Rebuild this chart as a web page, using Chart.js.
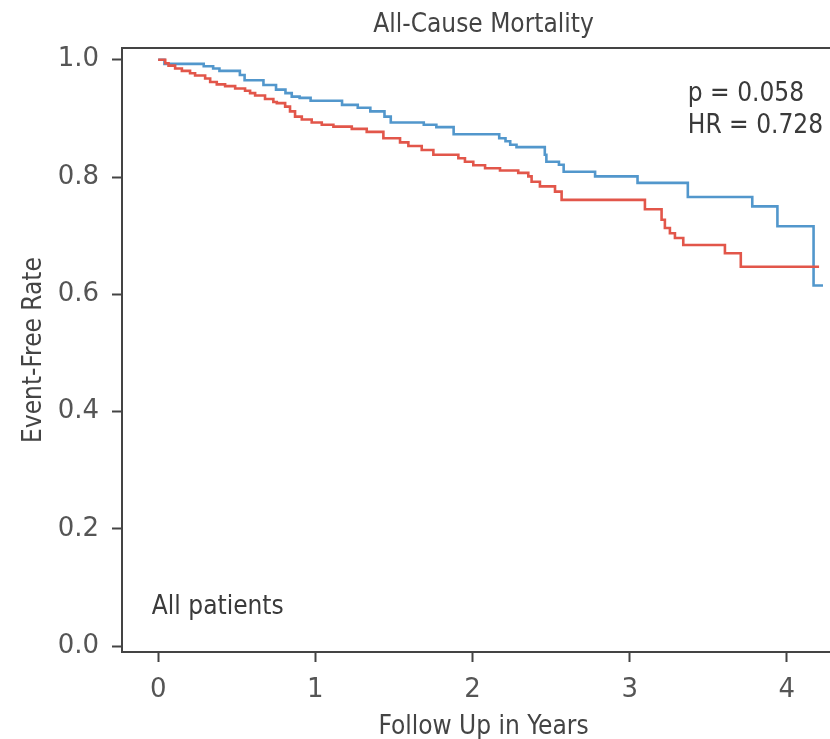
<!DOCTYPE html>
<html>
<head>
<meta charset="utf-8">
<script src="https://cdn.jsdelivr.net/npm/chart.js@4.4.1/dist/chart.umd.min.js"></script>
<style>
  html, body { margin: 0; padding: 0; background: #fff; overflow: hidden; }
  #wrap { width: 850px; height: 739px; }
</style>
</head>
<body>
<div id="wrap"><canvas id="kmChart" width="850" height="739"></canvas></div>
<script>
// Kaplan-Meier steps (time in years, event-free rate)
const blueTimes = [0, 0.04, 0.29, 0.35, 0.39, 0.52, 0.55, 0.67, 0.75, 0.81, 0.85, 0.90, 0.97, 1.17, 1.27, 1.35, 1.44, 1.48, 1.69, 1.77, 1.88, 2.17, 2.21, 2.24, 2.28, 2.46, 2.47, 2.55, 2.58, 2.78, 3.05, 3.37, 3.78, 3.94, 4.17, 4.23];
const blueSurv  = [1.0, 0.993, 0.989, 0.985, 0.981, 0.974, 0.965, 0.957, 0.949, 0.943, 0.937, 0.935, 0.930, 0.923, 0.918, 0.912, 0.903, 0.893, 0.889, 0.885, 0.873, 0.866, 0.861, 0.855, 0.851, 0.838, 0.826, 0.821, 0.809, 0.801, 0.790, 0.766, 0.750, 0.716, 0.615, 0.615];

const redTimes = [0, 0.045, 0.066, 0.108, 0.151, 0.203, 0.235, 0.299, 0.331, 0.373, 0.426, 0.49, 0.553, 0.585, 0.617, 0.68, 0.733, 0.755, 0.808, 0.839, 0.871, 0.914, 0.977, 1.041, 1.115, 1.232, 1.327, 1.433, 1.539, 1.592, 1.677, 1.751, 1.91, 1.952, 2.005, 2.08, 2.175, 2.291, 2.355, 2.376, 2.429, 2.525, 2.567, 3.097, 3.203, 3.224, 3.256, 3.288, 3.341, 3.606, 3.707, 4.205];
const redSurv  = [1.0, 0.994, 0.990, 0.985, 0.981, 0.977, 0.973, 0.968, 0.962, 0.958, 0.955, 0.951, 0.947, 0.943, 0.939, 0.933, 0.928, 0.926, 0.920, 0.912, 0.903, 0.898, 0.893, 0.889, 0.886, 0.882, 0.877, 0.866, 0.859, 0.853, 0.846, 0.838, 0.832, 0.826, 0.820, 0.815, 0.811, 0.807, 0.801, 0.792, 0.784, 0.775, 0.761, 0.745, 0.727, 0.713, 0.704, 0.696, 0.684, 0.670, 0.647, 0.647];

const xTicks = [0, 1, 2, 3, 4];
const yTicks = [0.0, 0.2, 0.4, 0.6, 0.8, 1.0];

const statLines = ["p = 0.058", "HR = 0.728"];
const panelLabel = "All patients";

const toPoints = (xs, ys) => xs.map((x, i) => ({ x: x, y: ys[i] }));

const ink = "#444";
const condensed = "'DejaVu Sans Condensed', 'Liberation Sans Narrow', 'DejaVu Sans', sans-serif";

// box round the plot area plus the free text
const frameAndText = {
  id: "frameAndText",
  afterDraw(chart) {
    const { ctx, chartArea: a, scales } = chart;
    ctx.save();
    ctx.strokeStyle = ink;
    ctx.lineWidth = 2;
    ctx.strokeRect(a.left, a.top, a.right - a.left, a.bottom - a.top);

    ctx.fillStyle = "#3a3a3a";
    ctx.textAlign = "left";
    ctx.textBaseline = "middle";
    ctx.font = "26px " + condensed;
    ctx.fillText(statLines[0], scales.x.getPixelForValue(3.37), scales.y.getPixelForValue(0.941));
    ctx.fillText(statLines[1], scales.x.getPixelForValue(3.37), scales.y.getPixelForValue(0.886));
    ctx.fillText(panelLabel, scales.x.getPixelForValue(-0.04), scales.y.getPixelForValue(0.066));
    ctx.restore();
  },
};

new Chart(document.getElementById("kmChart"), {
  type: "line",
  data: {
    datasets: [
      {
        data: toPoints(redTimes, redSurv),
        borderColor: "#e2564a",
        borderWidth: 2.6,
        stepped: "before",
        pointRadius: 0,
        fill: false,
      },
      {
        data: toPoints(blueTimes, blueSurv),
        borderColor: "#5297cc",
        borderWidth: 2.6,
        stepped: "before",
        pointRadius: 0,
        fill: false,
      },
    ],
  },
  options: {
    responsive: false,
    animation: false,
    layout: { padding: { right: 5 } },
    plugins: {
      legend: { display: false },
      tooltip: { enabled: false },
      title: {
        display: true,
        text: "All-Cause Mortality",
        fullSize: false,
        color: ink,
        font: { family: condensed, size: 26, weight: "normal", lineHeight: 1.2 },
        padding: { top: 9.5, bottom: 7.3 },
      },
    },
    scales: {
      x: {
        type: "linear",
        min: -0.23,
        max: 4.37,
        afterFit(scale) { scale.height = 87; },
        afterBuildTicks(scale) { scale.ticks = xTicks.map((v) => ({ value: v })); },
        grid: { drawOnChartArea: false, drawTicks: true, tickLength: 10, tickWidth: 2, tickColor: ink },
        border: { display: true, color: ink, width: 2 },
        ticks: { color: "#555", padding: 13, font: { family: "'DejaVu Sans', sans-serif", size: 26 }, maxRotation: 0 },
        title: {
          display: true,
          text: "Follow Up in Years",
          color: ink,
          font: { family: condensed, size: 26, lineHeight: 1.2 },
          padding: { top: 0, bottom: -4 },
        },
      },
      y: {
        type: "linear",
        min: -0.01,
        max: 1.02,
        afterFit(scale) { scale.width = 122; },
        afterBuildTicks(scale) { scale.ticks = yTicks.map((v) => ({ value: v })); },
        grid: { drawOnChartArea: false, drawTicks: true, tickLength: 10, tickWidth: 2, tickColor: ink },
        border: { display: true, color: ink, width: 2 },
        ticks: {
          color: "#555",
          padding: 13,
          font: { family: "'DejaVu Sans', sans-serif", size: 26 },
          callback: (v) => Number(v).toFixed(1),
        },
        title: {
          display: true,
          text: "Event-Free Rate",
          color: ink,
          font: { family: condensed, size: 26, lineHeight: 1.2 },
          padding: { top: 19, bottom: 0 },
        },
      },
    },
  },
  plugins: [frameAndText],
});
</script>
</body>
</html>
